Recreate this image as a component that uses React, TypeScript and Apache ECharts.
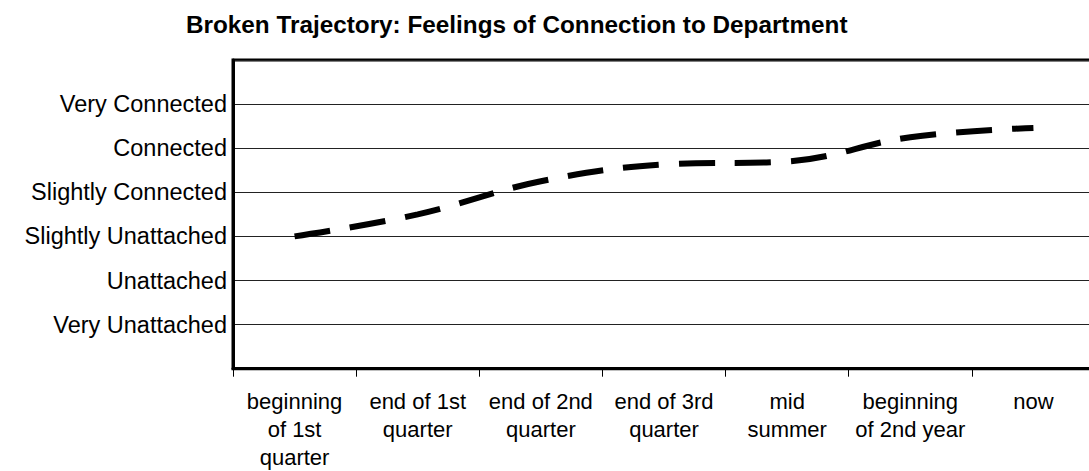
import React, { useEffect, useRef } from "react";
import * as echarts from "echarts";

const titleText = "Broken Trajectory: Feelings of Connection to Department";
const categories = [
  "beginning\nof 1st\nquarter",
  "end of 1st\nquarter",
  "end of 2nd\nquarter",
  "end of 3rd\nquarter",
  "mid\nsummer",
  "beginning\nof 2nd year",
  "now",
];
const connectionValues = [3.0, 3.5, 4.25, 4.63, 4.7, 5.25, 5.46];
const levelLabels = [
  "",
  "Very Unattached",
  "Unattached",
  "Slightly Unattached",
  "Slightly Connected",
  "Connected",
  "Very Connected",
  "",
];

const FONT = "'Liberation Sans', Arial, Helvetica, sans-serif";

export default function App() {
  const ref = useRef<HTMLDivElement>(null);
  useEffect(() => {
    if (!ref.current) return;
    const chart = echarts.init(ref.current, undefined, { renderer: "svg" });
    chart.setOption({
      animation: false,
      backgroundColor: "#ffffff",
      title: {
        text: titleText,
        left: 186,
        top: 12,
        padding: 0,
        textStyle: {
          fontFamily: FONT,
          fontWeight: "bold",
          fontSize: 24.3,
          lineHeight: 24,
          color: "#000",
        },
      },
      grid: {
        left: 233,
        top: 60,
        right: -6,
        height: 308.7,
        show: true,
        borderColor: "#000",
        borderWidth: 3,
        backgroundColor: "transparent",
        outerBoundsMode: "none",
      },
      xAxis: {
        type: "category",
        data: categories,
        boundaryGap: true,
        axisLine: { show: true, lineStyle: { color: "#000", width: 3 } },
        axisTick: {
          show: true,
          length: 8,
          interval: 0,
          lineStyle: { color: "#000", width: 1 },
        },
        axisLabel: {
          interval: 0,
          margin: 19,
          fontFamily: FONT,
          fontSize: 22,
          lineHeight: 28,
          color: "#000",
        },
        splitLine: { show: false },
      },
      yAxis: {
        type: "value",
        min: 0,
        max: 7,
        interval: 1,
        axisLine: { show: true, lineStyle: { color: "#000", width: 3 } },
        axisTick: { show: false },
        axisLabel: {
          margin: 6,
          fontFamily: FONT,
          fontSize: 23.5,
          color: "#000",
          formatter: (v: number) => levelLabels[Math.round(v)] ?? "",
        },
        splitLine: { show: true, lineStyle: { color: "#222", width: 1 } },
      },
      series: [
        {
          type: "line",
          data: connectionValues,
          smooth: 0.4,
          showSymbol: false,
          symbol: "none",
          lineStyle: { color: "#000", width: 6, type: [36, 20], cap: "butt" },
        },
      ],
    });
    return () => chart.dispose();
  }, []);
  return (
    <div
      ref={ref}
      style={{ position: "absolute", left: 0, top: 0, width: 1089, height: 471 }}
    />
  );
}
